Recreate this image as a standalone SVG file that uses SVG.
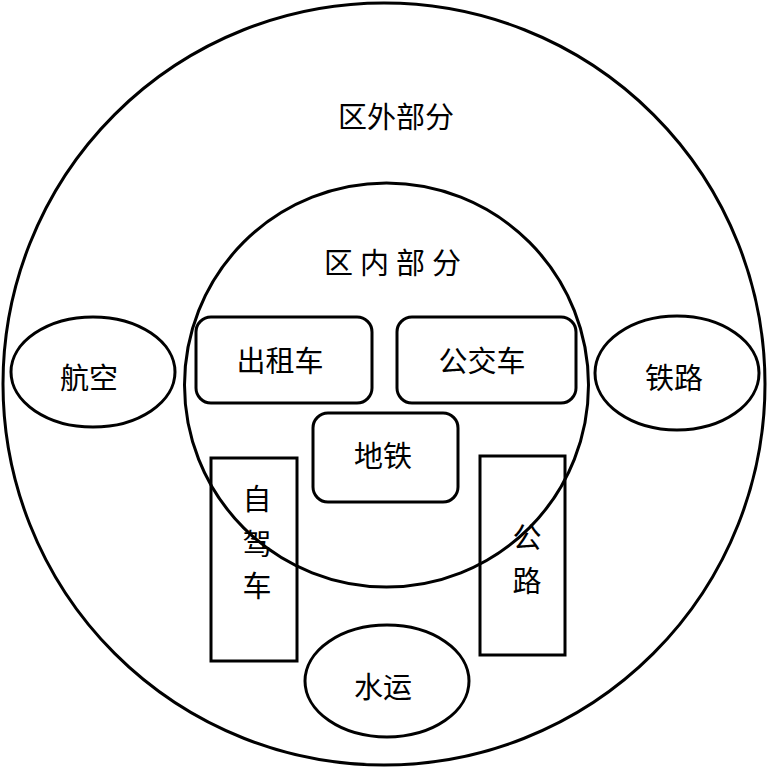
<svg xmlns="http://www.w3.org/2000/svg" width="768" height="768" viewBox="0 0 768 768">
<style>
  .s{fill:none;stroke:#000;stroke-width:3}
  text{font-family:"Liberation Serif","Noto Sans CJK SC",serif;font-size:29px;fill:#000;text-anchor:middle;dominant-baseline:central}
</style>
<rect width="768" height="768" fill="#fff"/>
<g id="outer">
  <circle class="s" cx="384" cy="384" r="381"/>
  <text x="396" y="118">区外部分</text>
</g>
<g id="hangkong">
  <ellipse class="s" cx="93" cy="372" rx="82" ry="55"/>
  <text x="89" y="379">航空</text>
</g>
<g id="tielu">
  <ellipse class="s" cx="677" cy="373" rx="82" ry="57"/>
  <text x="674" y="379">铁路</text>
</g>
<g id="shuiyun">
  <ellipse class="s" cx="387" cy="681" rx="82" ry="56"/>
  <text x="383" y="688">水运</text>
</g>
<g id="zijiache">
  <rect class="s" x="211" y="458" width="86" height="203"/>
  <text x="257" y="500">自</text>
  <text x="257" y="545">驾</text>
  <text x="257" y="587">车</text>
</g>
<g id="gonglu">
  <rect class="s" x="480" y="456" width="85" height="199"/>
  <text x="527" y="538">公</text>
  <text x="527" y="582">路</text>
</g>
<g id="inner">
  <circle class="s" cx="386.5" cy="385" r="202"/>
  <text x="396" y="264" letter-spacing="7">区内部分</text>
</g>
<g id="chuzuche">
  <rect class="s" x="196" y="317" width="176" height="86" rx="15"/>
  <text x="280" y="362">出租车</text>
</g>
<g id="gongjiaoche">
  <rect class="s" x="397" y="317" width="179" height="86" rx="15"/>
  <text x="482" y="362">公交车</text>
</g>
<g id="ditie">
  <rect class="s" x="313" y="413" width="145" height="89" rx="15"/>
  <text x="383" y="457">地铁</text>
</g>
<g id="connectors"></g>
</svg>
